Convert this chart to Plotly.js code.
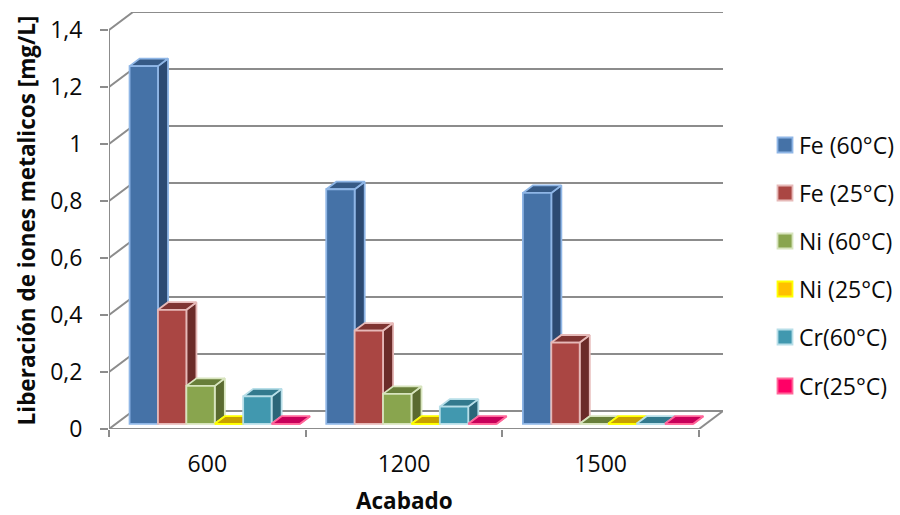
<!DOCTYPE html>
<html>
<head>
<meta charset="utf-8">
<script src="https://cdn.plot.ly/plotly-3.0.1.min.js"></script>
<style>html,body{margin:0;padding:0;background:#fff}</style>
</head>
<body>
<div id="chart" style="width:900px;height:515px"></div>
<script>
// Metal ion release per surface finish
const categories = ["600", "1200", "1500"];
const seriesNames = ["Fe (60°C)", "Fe (25°C)", "Ni (60°C)", "Ni (25°C)", "Cr(60°C)", "Cr(25°C)"];
const fe60 = [1.255, 0.823, 0.81];
const fe25 = [0.40, 0.327, 0.285];
const ni60 = [0.133, 0.105, 0];
const ni25 = [0, 0, 0];
const cr60 = [0.096, 0.06, 0];
const cr25 = [0, 0, 0];
const yTicks = [0, 0.2, 0.4, 0.6, 0.8, 1, 1.2, 1.4];

const seriesValues = [fe60, fe25, ni60, ni25, cr60, cr25];
const frontColors = ["#4572A7", "#AA4643", "#89A54E", "#FFC000", "#4198AF", "#FF0066"];
const sideColors = ["#2C4A72", "#6B2B29", "#5A6A30", "#A88000", "#2B6678", "#A80044"];
const topColors = ["#365A86", "#7F3432", "#687E3A", "#C8A000", "#337A8E", "#C8005A"];
const edgeColors = ["#8FB6E6", "#E6B9B8", "#D7E4BD", "#FFFF00", "#B7DEE8", "#FF6699"];
const wallColor = "#8C8C8C";
const textColor = "#0a0a0a";
const fontFamily = "'Open Sans', Lato, sans-serif";
const labelSize = 23, titleSize = 22.5;

// Pixel scale of the front plane and the oblique projection used for depth
const pxPerCategory = 196.67, pxPerUnit = 285;
const plotLeft = 109, plotRight = 723, plotTop = 12, plotBottom = 429;
const depthX = 24 / pxPerCategory, depthY = 18 / pxPerUnit;
const barWidth = 28.4 / pxPerCategory, sideGap = 13.6 / pxPerCategory;
const depthNear = 0.29, depthFar = 0.71;

const projectX = (x, d) => x + d * depthX;
const projectY = (v, d) => v + d * depthY;

function polygon(points, fill, edge, zorder) {
  return {
    type: "scatter", mode: "lines", fill: "toself", fillcolor: fill,
    x: points.map(p => projectX(p[0], p[2])),
    y: points.map(p => projectY(p[1], p[2])),
    line: {color: edge, width: 1.8}, showlegend: false, hoverinfo: "skip",
    cliponaxis: false, zorder
  };
}

function wallLine(xs, ys) {
  return {
    type: "scatter", mode: "lines", x: xs, y: ys,
    line: {color: wallColor, width: 2}, showlegend: false,
    hoverinfo: "skip", cliponaxis: false, zorder: 0
  };
}

const traces = [];

// Walls: the gridline runs across the left wall, then along the back wall
const xEnd = categories.length;
yTicks.forEach(t => {
  traces.push(wallLine(
    [0, projectX(0, 1), projectX(xEnd, 1)],
    [t, projectY(t, 1), projectY(t, 1)]
  ));
});
traces.push(wallLine([xEnd, projectX(xEnd, 1)], [0, projectY(0, 1)]));
traces.push(wallLine([0, xEnd], [0, 0]));
traces.push(wallLine([0, 0], [0, yTicks[yTicks.length - 1]]));

// Bars: side and top faces first, then the front face on a higher layer
seriesValues.forEach((values, s) => {
  const lefts = values.map((_, c) => c + sideGap + s * barWidth);
  values.forEach((v, c) => {
    const x0 = lefts[c], x1 = x0 + barWidth;
    traces.push(polygon(
      [[x1, 0, depthNear], [x1, v, depthNear], [x1, v, depthFar], [x1, 0, depthFar], [x1, 0, depthNear]],
      sideColors[s], edgeColors[s], 2 * s + 1
    ));
    traces.push(polygon(
      [[x0, v, depthNear], [x1, v, depthNear], [x1, v, depthFar], [x0, v, depthFar], [x0, v, depthNear]],
      topColors[s], edgeColors[s], 2 * s + 1
    ));
  });
  traces.push({
    type: "bar", name: seriesNames[s],
    x: lefts.map(l => projectX(l + barWidth / 2, depthNear)),
    y: values,
    base: values.map(() => depthNear * depthY),
    width: barWidth,
    marker: {color: frontColors[s], line: {color: edgeColors[s], width: 1.8}},
    hoverinfo: "skip", cliponaxis: false, showlegend: false, zorder: 2 * s + 2
  });
});

// Key on the right: one swatch and one label per series
const plotW = plotRight - plotLeft, plotH = plotBottom - plotTop;
const paperX = px => (px - plotLeft) / plotW;
const paperY = py => (plotBottom - py) / plotH;
const keyRows = [145, 193, 241, 289, 337, 386];
const keyShapes = seriesNames.map((_, s) => ({
  type: "rect", xref: "paper", yref: "paper", layer: "above",
  x0: paperX(777.5), x1: paperX(792.5),
  y0: paperY(keyRows[s] + 7.5), y1: paperY(keyRows[s] - 7.5),
  fillcolor: frontColors[s], line: {color: edgeColors[s], width: 1.8}
}));
const keyLabels = seriesNames.map((name, s) => ({
  text: name, xref: "paper", yref: "paper",
  x: paperX(797), y: paperY(keyRows[s]), xanchor: "left", yanchor: "middle",
  showarrow: false, font: {size: labelSize, color: textColor, family: fontFamily}
}));

const layout = {
  width: 900, height: 515,
  margin: {l: plotLeft, r: 900 - plotRight, t: plotTop, b: 515 - plotBottom, pad: 0, autoexpand: false},
  paper_bgcolor: "#fff", plot_bgcolor: "#fff",
  font: {family: fontFamily, size: labelSize, color: textColor},
  separators: ", ",
  barmode: "overlay",
  showlegend: false,
  xaxis: {
    range: [0, plotW / pxPerCategory],
    tickmode: "array",
    tickvals: categories.map((_, i) => i + 0.5),
    ticktext: categories,
    ticks: "outside", ticklen: 7, tickcolor: "rgba(0,0,0,0)",
    ticklabelstandoff: 7,
    minor: {
      tickmode: "array", tickvals: categories.map((_, i) => i).concat(categories.length),
      ticks: "outside", ticklen: 7, tickwidth: 2, tickcolor: wallColor, showgrid: false
    },
    showgrid: false, zeroline: false, showline: false, fixedrange: true
  },
  yaxis: {
    range: [0, plotH / pxPerUnit],
    tickmode: "array", tickvals: yTicks,
    ticks: "outside", ticklen: 8, tickwidth: 2, tickcolor: wallColor,
    ticklabelstandoff: 13,
    showgrid: false, zeroline: false, showline: false, fixedrange: true,
    title: {text: "Liberación de iones metalicos [mg/L]", standoff: 8,
            font: {size: titleSize, color: textColor, weight: 700}}
  },
  shapes: keyShapes,
  annotations: keyLabels.concat([{
    text: "<b>Acabado</b>", xref: "paper", yref: "paper",
    x: paperX(404), y: paperY(500.5),
    xanchor: "center", yanchor: "middle", showarrow: false,
    font: {size: titleSize, color: textColor}
  }])
};

Plotly.newPlot("chart", traces, layout, {displayModeBar: false, staticPlot: true});
</script>
</body>
</html>
